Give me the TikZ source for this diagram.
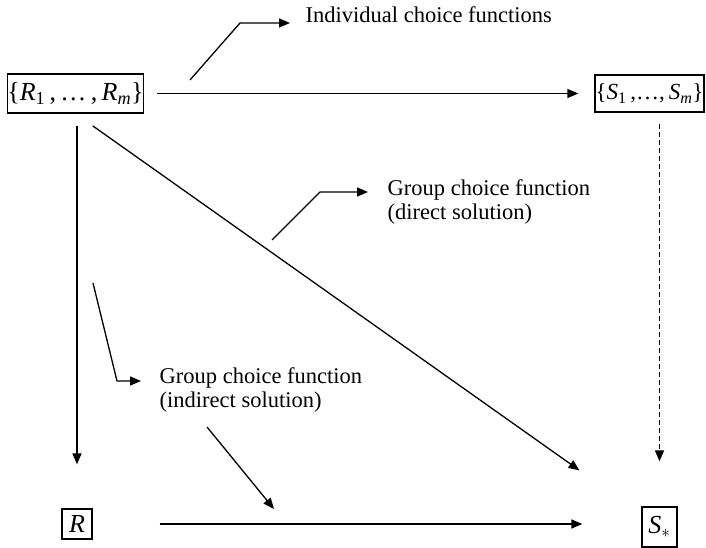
\documentclass[tikz,border=0pt]{standalone}
\usepackage{fontspec}
\setmainfont{Liberation Serif}
\usetikzlibrary{arrows.meta}
\begin{document}
\begin{tikzpicture}[x=1pt,y=-1pt,line width=1.3pt,
  arr/.style={-{Triangle[length=11pt,width=9pt]}},
  dsh/.style={dash pattern=on 5pt off 3pt},
  box/.style={draw, line width=1.3pt, inner sep=0pt, font=\fontsize{26}{30}\selectfont},
  lab/.style={inner sep=0pt, align=left, font=\fontsize{22.5}{24.5}\selectfont}]
\useasboundingbox (0,0) rectangle (706,548);

\node[box, minimum width=133pt, minimum height=39pt] (Rset) at (75.5,93.5)
  {\{\textit{R}\textsubscript{1}\,,\,\ldots\,,\,\textit{R}\textsubscript{\textit{m}}\}};
\node[box, minimum width=109pt, minimum height=37pt, font=\fontsize{23}{27}\selectfont] (Sset) at (649.5,93.5)
  {\{\textit{S}\textsubscript{1}\,,\ldots,\,\textit{S}\textsubscript{\textit{m}}\}};
\node[box, minimum width=30pt, minimum height=30pt] (R) at (77,524) {\textit{R}};
\node[box, minimum width=35pt, minimum height=40pt] (Sstar) at (659.5,527) {\textit{S}\textsubscript{$*$}};

\node[lab, anchor=base west] (lab1) at (305,23) {Individual choice functions};
\node[lab, anchor=west] (lab2) at (387,202) {Group choice function\\(direct solution)};
\node[lab, anchor=west] (lab3) at (159,390) {Group choice function\\(indirect solution)};

\coordinate (c1a) at (190,80);
\coordinate (c1b) at (240,23);
\coordinate (c2a) at (272,240);
\coordinate (c2b) at (320,192);
\coordinate (c2c) at (368,192);
\coordinate (c3a) at (93,283);
\coordinate (c3b) at (117,381);
\coordinate (c3c) at (141,381);
\coordinate (c4a) at (207,427);
\coordinate (c4b) at (274,509);

\draw[arr, shorten <=13pt, shorten >=16pt] (Rset.east) -- (Sset.west);
\draw[arr, shorten <=12pt, shorten >=44pt] (Rset.south -| R.north) -- (R.north);
\draw[arr, dsh, shorten <=11pt, shorten >=45pt] (Sset.south -| Sstar.north) -- (Sstar.north);
\draw[arr, shorten <=21pt, shorten >=98pt] (Rset.south) -- (Sstar.center);
\draw[arr, shorten <=67pt, shorten >=59pt] (R.east) -- (R.east -| Sstar.west);

\draw[arr, shorten >=15pt] (c1a) -- (c1b) -- (lab1.base west);
\draw[arr] (c2a) -- (c2b) -- (c2c);
\draw[arr] (c3a) -- (c3b) -- (c3c);
\draw[arr] (c4a) -- (c4b);
\end{tikzpicture}
\end{document}
